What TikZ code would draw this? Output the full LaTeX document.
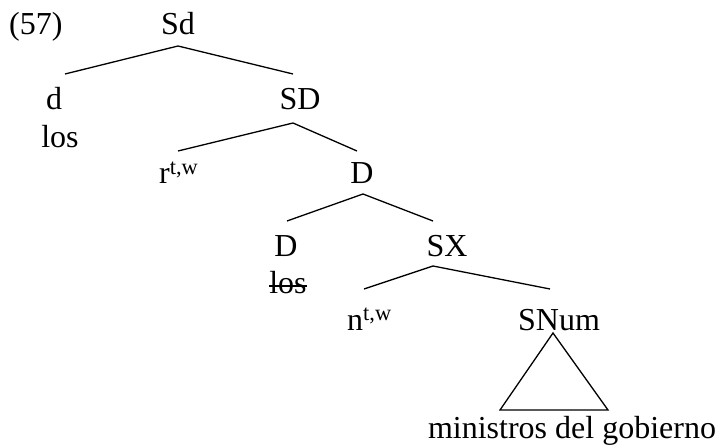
\documentclass[tikz,border=0pt]{standalone}
\usepackage{fontspec}
\setmainfont{Liberation Serif}
\usetikzlibrary{calc}
\tikzset{
  lbl/.style={inner sep=0pt, anchor=base, font=\fontsize{32}{38}\selectfont},
  lblw/.style={lbl, anchor=base west},
  branch/.style={line width=1.3pt},
}
\begin{document}
\begin{tikzpicture}[x=1pt,y=-1pt]
\path[use as bounding box] (0,0) rectangle (717,446);

% labels (positions are baselines)
\node[lblw] (ex)   at (9,35)   {(57)};
\node[lbl]  (Sd)   at (178,35) {Sd};
\node[lbl]  (d)    at (54,110) {d};
\node[lbl]  (los1) at (60,148) {los};
\node[lbl]  (SD)   at (300,110) {SD};
\node[lblw] (r)    at (159,184) {r\textsuperscript{t,w}};
\node[lbl]  (D1)   at (362,184) {D};
\node[lbl]  (D2)   at (286,257) {D};
\node[lbl]  (los2) at (288,293) {los};
\node[lbl]  (SX)   at (447,257) {SX};
\node[lblw] (n)    at (347,330) {n\textsuperscript{t,w}};
\node[lbl]  (SNum) at (559,330) {SNum};
\node[lbl]  (min)  at (572,438) {ministros del gobierno};

% struck-through copy of the determiner
\draw[line width=1.3pt] ($(los2.base west)+(0,-7)$) -- ($(los2.base east)+(0,-7)$);

% branches
\draw[branch] ($(d.base)+(11,-36)$) -- ($(Sd.base)+(0,11)$) -- ($(SD.base)+(-7,-36)$);
\draw[branch] ($(r.base west)+(19,-33)$) -- ($(SD.base)+(-7,13)$) -- ($(D1.base)+(-5,-33)$);
\draw[branch] ($(D2.base)+(1,-36)$) -- ($(D1.base)+(1,10)$) -- ($(SX.base)+(-14,-36)$);
\draw[branch] ($(n.base west)+(17,-41)$) -- ($(SX.base)+(-14,9)$) -- ($(SNum.base)+(-9,-41)$);

% triangle over the unanalysed phrase
\draw[branch, line join=miter] ($(SNum.base)+(-6,3)$) -- ($(min.base)+(-72,-28)$) -- ($(min.base)+(36,-28)$) -- cycle;
\end{tikzpicture}
\end{document}
